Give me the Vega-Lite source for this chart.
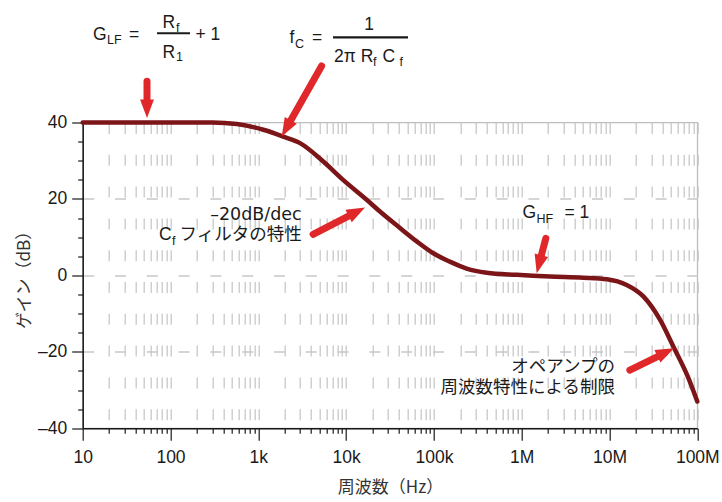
{
  "$schema": "https://vega.github.io/schema/vega-lite/v6.json",
  "autosize": "none",
  "width": 614.6,
  "height": 305.8,
  "padding": {"left": 82.7, "top": 122.5, "right": 24.7, "bottom": 73.7},
  "background": "white",
  "config": {"view": {"stroke": "#bdbdbd", "strokeWidth": 1.3}},
  "datasets": {
    "curve": [
      {"freq": 10, "db": 40}, {"freq": 50, "db": 40}, {"freq": 150, "db": 40}, {"freq": 300, "db": 40},
      {"freq": 570, "db": 39.6}, {"freq": 1140, "db": 38.1}, {"freq": 1930, "db": 36.3}, {"freq": 2990, "db": 34.6},
      {"freq": 5500, "db": 29.8}, {"freq": 9230, "db": 25.0}, {"freq": 17160, "db": 19.8}, {"freq": 24300, "db": 16.7},
      {"freq": 41100, "db": 12.4}, {"freq": 63700, "db": 8.9}, {"freq": 98500, "db": 5.8}, {"freq": 152000, "db": 3.6},
      {"freq": 236000, "db": 1.8}, {"freq": 399000, "db": 0.7}, {"freq": 877000, "db": 0.15}, {"freq": 2100000, "db": -0.3},
      {"freq": 5030000, "db": -0.6}, {"freq": 9300000, "db": -1.0}, {"freq": 15700000, "db": -2.5}, {"freq": 24300000, "db": -5.5},
      {"freq": 37600000, "db": -11.6}, {"freq": 53300000, "db": -18.6}, {"freq": 78000000, "db": -26.5}, {"freq": 100000000, "db": -33.0}
    ],
    "bars": [
      {"freq": 70.2, "freq2": 166.8, "db": 63.35},
      {"freq": 7095, "freq2": 50700, "db": 62.25}
    ],
    "shafts": [
      {"freq": 54.0, "db": 50.8, "freq2": 54.0, "db2": 44.4},
      {"freq": 5260, "db": 54.77, "freq2": 2156, "db2": 39.06},
      {"freq": 4210, "db": 10.76, "freq2": 12400, "db2": 16.31},
      {"freq": 1882000, "db": 9.71, "freq2": 1603000, "db2": 3.61},
      {"freq": 17060000, "db": -24.79, "freq2": 41980000, "db2": -20.42}
    ],
    "heads": [
      {"freq": 54.0, "db": 41.2, "angle": 180},
      {"freq": 1847, "db": 36.34, "angle": 209.5},
      {"freq": 16420, "db": 17.75, "angle": 62.8},
      {"freq": 1482000, "db": 0.58, "angle": 194.6},
      {"freq": 54300000, "db": -19.06, "angle": 64.1}
    ],
    "txtMain": [
      {"freq": 13.10, "db": 61.65, "text": "G"},
      {"freq": 33.68, "db": 61.65, "text": "="},
      {"freq": 81.07, "db": 64.71, "text": "R"},
      {"freq": 81.07, "db": 56.94, "text": "R"},
      {"freq": 192.7, "db": 61.65, "text": "+ 1"},
      {"freq": 2266, "db": 60.86, "text": "f"},
      {"freq": 4089, "db": 60.86, "text": "="},
      {"freq": 7282, "db": 55.89, "text": "2π R"},
      {"freq": 25980, "db": 55.89, "text": "C"},
      {"freq": 73.96, "db": 9.29, "text": "C"},
      {"freq": 1021000, "db": 14.97, "text": "G"},
      {"freq": 3073000, "db": 14.97, "text": "= 1"}
    ],
    "txtCenter": [
      {"freq": 18230, "db": 64.27, "text": "1"}
    ],
    "txtSub": [
      {"freq": 18.92, "db": 60.60, "text": "LF"},
      {"freq": 115.5, "db": 63.74, "text": "f"},
      {"freq": 115.5, "db": 56.15, "text": "1"},
      {"freq": 2618, "db": 59.55, "text": "C"},
      {"freq": 20250, "db": 54.84, "text": "f"},
      {"freq": 40580, "db": 54.84, "text": "f"},
      {"freq": 104.0, "db": 7.98, "text": "f"},
      {"freq": 1474000, "db": 13.82, "text": "HF"}
    ],
    "txtSlope": [
      {"freq": 3122, "db": 14.53, "text": "–20dB/dec"}
    ],
    "txtRight": [
      {"freq": 3122, "db": 9.29, "text": "フィルタの特性"},
      {"freq": 11550000, "db": -25.18, "text": "オペアンプの"},
      {"freq": 11550000, "db": -30.84, "text": "周波数特性による制限"}
    ]
  },
  "encoding": {
    "x": {
      "field": "freq", "type": "quantitative",
      "scale": {"type": "log", "domain": [10, 100000000], "nice": false},
      "axis": {
        "values": [10,20,30,40,50,60,70,80,90,100,200,300,400,500,600,700,800,900,1000,2000,3000,4000,5000,6000,7000,8000,9000,10000,20000,30000,40000,50000,60000,70000,80000,90000,100000,200000,300000,400000,500000,600000,700000,800000,900000,1000000,2000000,3000000,4000000,5000000,6000000,7000000,8000000,9000000,10000000,20000000,30000000,40000000,50000000,60000000,70000000,80000000,90000000,100000000],
        "labelExpr": "datum.value==10?'10':datum.value==100?'100':datum.value==1000?'1k':datum.value==10000?'10k':datum.value==100000?'100k':datum.value==1000000?'1M':datum.value==10000000?'10M':datum.value==100000000?'100M':''",
        "labelOverlap": false, "labelBound": false, "labelFlush": false,
        "labelFont": "Liberation Sans", "labelFontSize": 17.5, "labelColor": "#1a1a1a", "labelPadding": 8,
        "tickSize": {"condition": {"test": "indexof([10,100,1000,10000,100000,1000000,10000000,100000000], datum.value) >= 0", "value": 12}, "value": 5},
        "tickColor": "#1a1a1a", "tickWidth": 1.2,
        "domainColor": "#1a1a1a", "domainWidth": 1.5,
        "grid": true, "gridColor": "#c8c8c8", "gridWidth": 1.3, "gridDash": [11, 20.8],
        "title": "周波数（Hz）", "titleFont": "Noto Sans CJK JP", "titleFontSize": 17, "titleFontWeight": "normal", "titleColor": "#333333", "titlePadding": 14
      }
    },
    "y": {
      "field": "db", "type": "quantitative",
      "scale": {"domain": [-40, 40], "nice": false, "zero": false},
      "axis": {
        "values": [-40,-35,-30,-25,-20,-15,-10,-5,0,5,10,15,20,25,30,35,40],
        "labelExpr": "datum.value % 20 == 0 ? (datum.value < 0 ? '–' + abs(datum.value) : '' + datum.value) : ''",
        "labelOverlap": false, "labelBound": false, "labelFlush": false,
        "labelFont": "Liberation Sans", "labelFontSize": 17.5, "labelColor": "#1a1a1a", "labelPadding": 5,
        "tickSize": {"condition": {"test": "datum.value % 20 == 0", "value": 11}, "value": 5},
        "tickColor": "#1a1a1a", "tickWidth": 1.2,
        "domainColor": "#1a1a1a", "domainWidth": 1.5,
        "grid": true, "gridColor": "#c8c8c8", "gridWidth": 1.3, "gridDash": [11, 20.8],
        "gridOpacity": {"condition": {"test": "datum.value % 20 == 0 && abs(datum.value) < 40", "value": 1}, "value": 0},
        "title": "ゲイン（dB）", "titleFont": "Noto Sans CJK JP", "titleFontSize": 17, "titleFontWeight": "normal", "titleColor": "#333333", "titlePadding": 4
      }
    }
  },
  "layer": [
    {
      "data": {"name": "curve"},
      "mark": {"type": "line", "color": "#7b1518", "strokeWidth": 4.5, "interpolate": "monotone", "strokeCap": "round", "strokeJoin": "round"}
    },
    {
      "data": {"name": "shafts"},
      "mark": {"type": "rule", "color": "#e0282a", "strokeWidth": 7, "strokeCap": "round"},
      "encoding": {"x2": {"field": "freq2"}, "y2": {"field": "db2"}}
    },
    {
      "data": {"name": "heads"},
      "mark": {"type": "point", "shape": "M-0.75,2L0,0L0.75,2Z", "size": 340, "filled": true, "color": "#e0282a", "opacity": 1, "strokeWidth": 0},
      "encoding": {"angle": {"field": "angle", "type": "quantitative", "scale": null}}
    },
    {
      "data": {"name": "bars"},
      "mark": {"type": "rule", "color": "#1a1a1a", "strokeWidth": 2.2},
      "encoding": {"x2": {"field": "freq2"}}
    },
    {
      "data": {"name": "txtMain"},
      "mark": {"type": "text", "align": "left", "baseline": "alphabetic", "font": "Liberation Sans, Noto Sans CJK JP", "fontSize": 17.5, "color": "#1a1a1a"},
      "encoding": {"text": {"field": "text"}}
    },
    {
      "data": {"name": "txtCenter"},
      "mark": {"type": "text", "align": "center", "baseline": "alphabetic", "font": "Liberation Sans, Noto Sans CJK JP", "fontSize": 17.5, "color": "#1a1a1a"},
      "encoding": {"text": {"field": "text"}}
    },
    {
      "data": {"name": "txtSub"},
      "mark": {"type": "text", "align": "left", "baseline": "alphabetic", "font": "Liberation Sans, Noto Sans CJK JP", "fontSize": 12.5, "color": "#1a1a1a"},
      "encoding": {"text": {"field": "text"}}
    },
    {
      "data": {"name": "txtSlope"},
      "mark": {"type": "text", "align": "right", "baseline": "alphabetic", "font": "DejaVu Sans", "fontSize": 17.5, "color": "#1a1a1a"},
      "encoding": {"text": {"field": "text"}}
    },
    {
      "data": {"name": "txtRight"},
      "mark": {"type": "text", "align": "right", "baseline": "alphabetic", "font": "Liberation Sans, Noto Sans CJK JP", "fontSize": 17.5, "color": "#1a1a1a"},
      "encoding": {"text": {"field": "text"}}
    }
  ]
}
